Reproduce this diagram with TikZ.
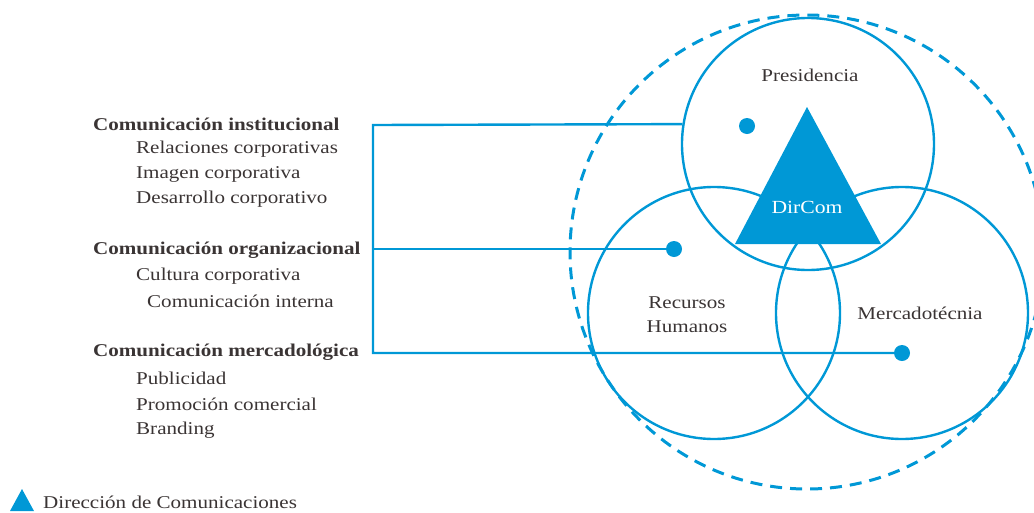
\documentclass[tikz,border=0pt]{standalone}
\usepackage{fontspec}
\setmainfont{Liberation Serif}[FakeStretch=1.17]
\usetikzlibrary{calc}
\definecolor{dcblue}{RGB}{0,152,214}
\definecolor{ink}{RGB}{58,52,52}
\begin{document}
\begin{tikzpicture}[x=1pt,y=-1pt,
  ring/.style={circle,draw=dcblue,line width=2.4pt,minimum size=252pt,inner sep=0pt},
  outerring/.style={circle,draw=dcblue,line width=3pt,dash pattern=on 12pt off 8pt,minimum size=474pt,inner sep=0pt},
  link/.style={draw=dcblue,line width=2.4pt},
  dot/.style={circle,fill=dcblue,inner sep=0pt,minimum size=16pt},
  head/.style={anchor=west,text=ink,font=\fontsize{18}{21}\selectfont\bfseries,inner sep=0pt},
  item/.style={anchor=west,text=ink,font=\fontsize{18}{21}\selectfont,inner sep=0pt},
  area/.style={text=ink,font=\fontsize{18}{24}\selectfont,align=center,inner sep=0pt}]
\useasboundingbox (0,0) rectangle (1034,512);
\clip (0,0) rectangle (1034,512);

% outer dashed boundary
\node[outerring] (outer) at (807,252) {};

% the three areas
\node[ring] (pres) at (808,144) {};
\node[ring] (rh) at (714,313) {};
\node[ring] (merc) at (902,313) {};

% DirCom triangle
\coordinate (apex) at (807,107);
\coordinate (bl) at (735,244);
\coordinate (br) at (881,244);
\fill[dcblue] (apex) -- (br) -- (bl) -- cycle;
\node[text=white,font=\fontsize{18.5}{22}\selectfont] (dircom) at (807,207) {DirCom};

% area labels
\node[area] (lpres) at (810,75) {Presidencia};
\node[area] (lrh) at (687,315) {Recursos\\Humanos};
\node[area] (lmerc) at (920,313) {Mercadotécnia};

% dots
\node[dot] (d1) at (747,126) {};
\node[dot] (d2) at (674,249) {};
\node[dot] (d3) at (902,353) {};

% bracket connectors
\coordinate (b1) at (373,125);
\coordinate (b2) at (373,249);
\coordinate (b3) at (373,353);
\draw[link] (pres.171.3) -- (b1) -- (b3) -- (d3.center);
\draw[link] (b2) -- (d2.center);

% list of communication types
\node[head] (h1) at (93,124) {Comunicación institucional};
\node[item] (i11) at (136,149) {Relaciones corporativas};
\node[item] (i12) at (136,174) {Imagen corporativa};
\node[item] (i13) at (136,199) {Desarrollo corporativo};
\node[head] (h2) at (93,250) {Comunicación organizacional};
\node[item] (i21) at (136,276) {Cultura corporativa};
\node[item] (i22) at (147,301) {Comunicación interna};
\node[head] (h3) at (93,352) {Comunicación mercadológica};
\node[item] (i31) at (136,378) {Publicidad};
\node[item] (i32) at (136,404) {Promoción comercial};
\node[item] (i33) at (136,430) {Branding};

% legend
\coordinate (la) at (22,489);
\coordinate (ll) at (10,511);
\coordinate (lr) at (34,511);
\fill[dcblue] (la) -- (lr) -- (ll) -- cycle;
\node[item] (legend) at (43,502) {Dirección de Comunicaciones};
\end{tikzpicture}
\end{document}
